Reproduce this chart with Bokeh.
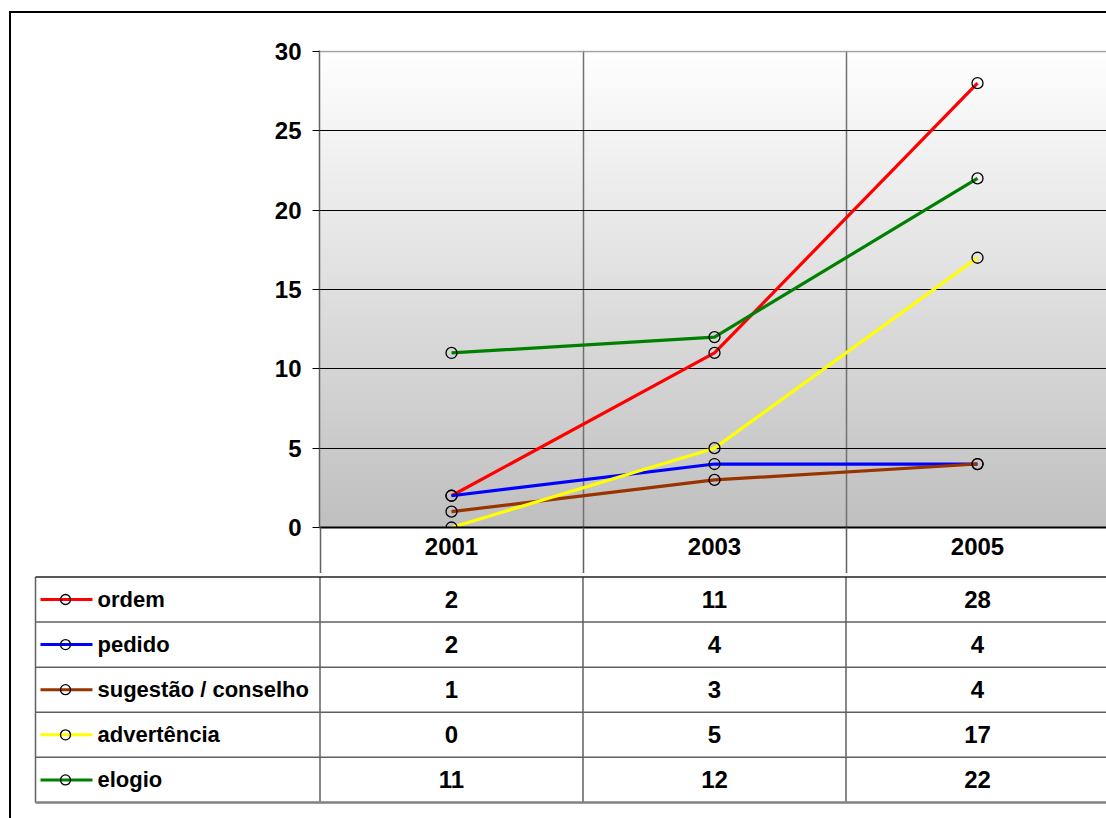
import numpy as np
from bokeh.plotting import figure
from bokeh.layouts import column
from bokeh.models import Range1d, FixedTicker, Span
from bokeh.core.properties import value
from bokeh.embed import file_html
from bokeh.resources import INLINE

# ---- data ----
years = ["2001", "2003", "2005"]
series_names = ["ordem", "pedido", "sugestão / conselho", "advertência", "elogio"]
ordem = [2, 11, 28]
pedido = [2, 4, 4]
sugestao = [1, 3, 4]
advertencia = [0, 5, 17]
elogio = [11, 12, 22]
series_values = [ordem, pedido, sugestao, advertencia, elogio]
series_colors = ["#ff0000", "#0000ff", "#993300", "#ffff00", "#008000"]
y_ticks = [0, 5, 10, 15, 20, 25, 30]

FONT = "Liberation Sans"
FS = "22px"       # legend names
FSN = "24px"      # numbers

# ---- layout constants (pixels) ----
OX, OY = 11, 13            # content origin inside outer border
CAT_PX = 263.0             # width of one category
CAT0_PX = 451.0            # centre of first category
FRAME_L, FRAME_T, FRAME_B = 319, 50, 527
SPLIT = 573                # where the table figure begins
WIN_W, WIN_H = 1106, 818
ROW_PX = 45.1
ROW0_PX = 599.0
YTOP = 30.06

def px2x(px):
    return (px - CAT0_PX) / CAT_PX

xs = list(range(len(years)))
x_start, x_end = px2x(FRAME_L), px2x(WIN_W)

# ---- chart ----
p1 = figure(width=WIN_W - OX, height=SPLIT - OY,
            x_range=Range1d(x_start, x_end), y_range=Range1d(0, YTOP),
            output_backend="svg", toolbar_location=None,
            min_border_left=FRAME_L - OX, min_border_top=FRAME_T - OY,
            min_border_right=0, min_border_bottom=SPLIT - FRAME_B)
p1.outline_line_color = None
p1.background_fill_color = "white"
p1.border_fill_color = "white"

# gradient background (drawn beneath the grid)
n = 256
g = np.linspace(0xc0, 0xff, n).astype(np.uint8)
img = np.zeros((n, 1), dtype=np.uint32)
view = img.view(dtype=np.uint8).reshape((n, 1, 4))
view[:, 0, 0] = g
view[:, 0, 1] = g
view[:, 0, 2] = g
view[:, 0, 3] = 255
p1.image_rgba(image=[img], x=x_start, y=0, dw=x_end - x_start, dh=YTOP, level="image")

# x axis: labels at category centres, long minor ticks = column dividers
xa = p1.xaxis[0]
xa.ticker = FixedTicker(ticks=xs, minor_ticks=[-0.5, 0.5, 1.5])
xa.major_label_overrides = {i: y for i, y in enumerate(years)}
xa.major_tick_out = 0
xa.major_tick_in = 0
xa.minor_tick_out = SPLIT - FRAME_B
xa.minor_tick_in = 0
xa.minor_tick_line_color = "#606060"
xa.minor_tick_line_width = 1.5
xa.axis_line_color = "#000000"
xa.axis_line_width = 2
xa.major_label_standoff = -36
xa.major_label_text_font = FONT
xa.major_label_text_font_style = "bold"
xa.major_label_text_font_size = FSN
xa.major_label_text_color = "#000000"

p1.xgrid.ticker = FixedTicker(ticks=[0.5, 1.5])
p1.xgrid.grid_line_color = "#707070"
p1.xgrid.grid_line_width = 1.5
p1.ygrid.ticker = FixedTicker(ticks=y_ticks[1:-1])
p1.ygrid.grid_line_color = "#000000"
p1.ygrid.grid_line_width = 1
p1.add_layout(Span(location=y_ticks[-1], dimension="width",
                   line_color="#a0a0a0", line_width=1.5))

ax = p1.yaxis[0]
ax.ticker = FixedTicker(ticks=y_ticks)
ax.major_tick_out = 7
ax.major_tick_in = 0
ax.minor_tick_out = 0
ax.minor_tick_in = 0
ax.major_tick_line_color = "#000000"
ax.axis_line_color = "#606060"
ax.axis_line_width = 1.5
ax.major_label_standoff = 11
ax.major_label_text_font = FONT
ax.major_label_text_font_style = "bold"
ax.major_label_text_font_size = FSN
ax.major_label_text_color = "#000000"

for name, vals, col in zip(series_names, series_values, series_colors):
    p1.line(xs, vals, line_color=col, line_width=3.2)
    p1.scatter(xs, vals, marker="circle", size=11, fill_color=None,
               line_color="#000000", line_width=1.3)

# ---- table ----
t_top_y = (SPLIT - ROW0_PX) / ROW_PX
t_bot_y = (WIN_H - ROW0_PX) / ROW_PX
p2 = figure(width=WIN_W - OX, height=WIN_H - SPLIT,
            x_range=Range1d(px2x(OX), x_end), y_range=Range1d(t_bot_y, t_top_y),
            output_backend="svg", toolbar_location=None,
            min_border_left=0, min_border_top=0, min_border_right=0, min_border_bottom=0)
p2.axis.visible = False
p2.grid.visible = False
p2.outline_line_color = None
p2.background_fill_color = "white"
p2.border_fill_color = "white"

nrows = len(series_names)
tbl_left = px2x(35)
# vertical lines
vx = [tbl_left, -0.5, 0.5, 1.5]
p2.segment(x0=vx, y0=[-0.5] * len(vx), x1=vx, y1=[nrows - 0.5] * len(vx),
           line_color="#606060", line_width=1.5)
# horizontal lines
hy = [i - 0.5 for i in range(nrows + 1)]
hcol = ["#202020"] + ["#606060"] * (nrows - 1) + ["#808080"]
hw = [1.5] + [1.5] * (nrows - 1) + [2.5]
p2.segment(x0=[tbl_left] * len(hy), y0=hy, x1=[x_end] * len(hy), y1=hy,
           line_color=hcol, line_width=hw)

# values
for i, vals in enumerate(series_values):
    p2.text(x=xs, y=[i] * len(xs), text=[str(v) for v in vals],
            text_font=value(FONT), text_font_style="bold", text_font_size=FSN,
            text_align="center", text_baseline="middle", text_color="#000000")

# legend keys
ry = list(range(nrows))
p2.segment(x0=[px2x(40)] * nrows, y0=ry, x1=[px2x(92)] * nrows, y1=ry,
           line_color=series_colors, line_width=3)
p2.scatter(x=[px2x(65)] * nrows, y=ry, marker="circle", size=10,
           fill_color=None, line_color="#000000", line_width=1.3)
p2.text(x=[px2x(97)] * nrows, y=ry, text=series_names,
        text_font=value(FONT), text_font_style="bold", text_font_size=FS,
        text_align="left", text_baseline="middle", text_color="#000000")

root1 = column(p1, margin=(11, 0, 0, 9),
               styles={"border-left": "2px solid #000000",
                       "border-top": "2px solid #000000",
                       "display": "block"})
root2 = column(p2, margin=(0, 0, 0, 9),
               styles={"border-left": "2px solid #000000",
                       "display": "block"})

open("out.html", "w").write(file_html([root1, root2], INLINE))
